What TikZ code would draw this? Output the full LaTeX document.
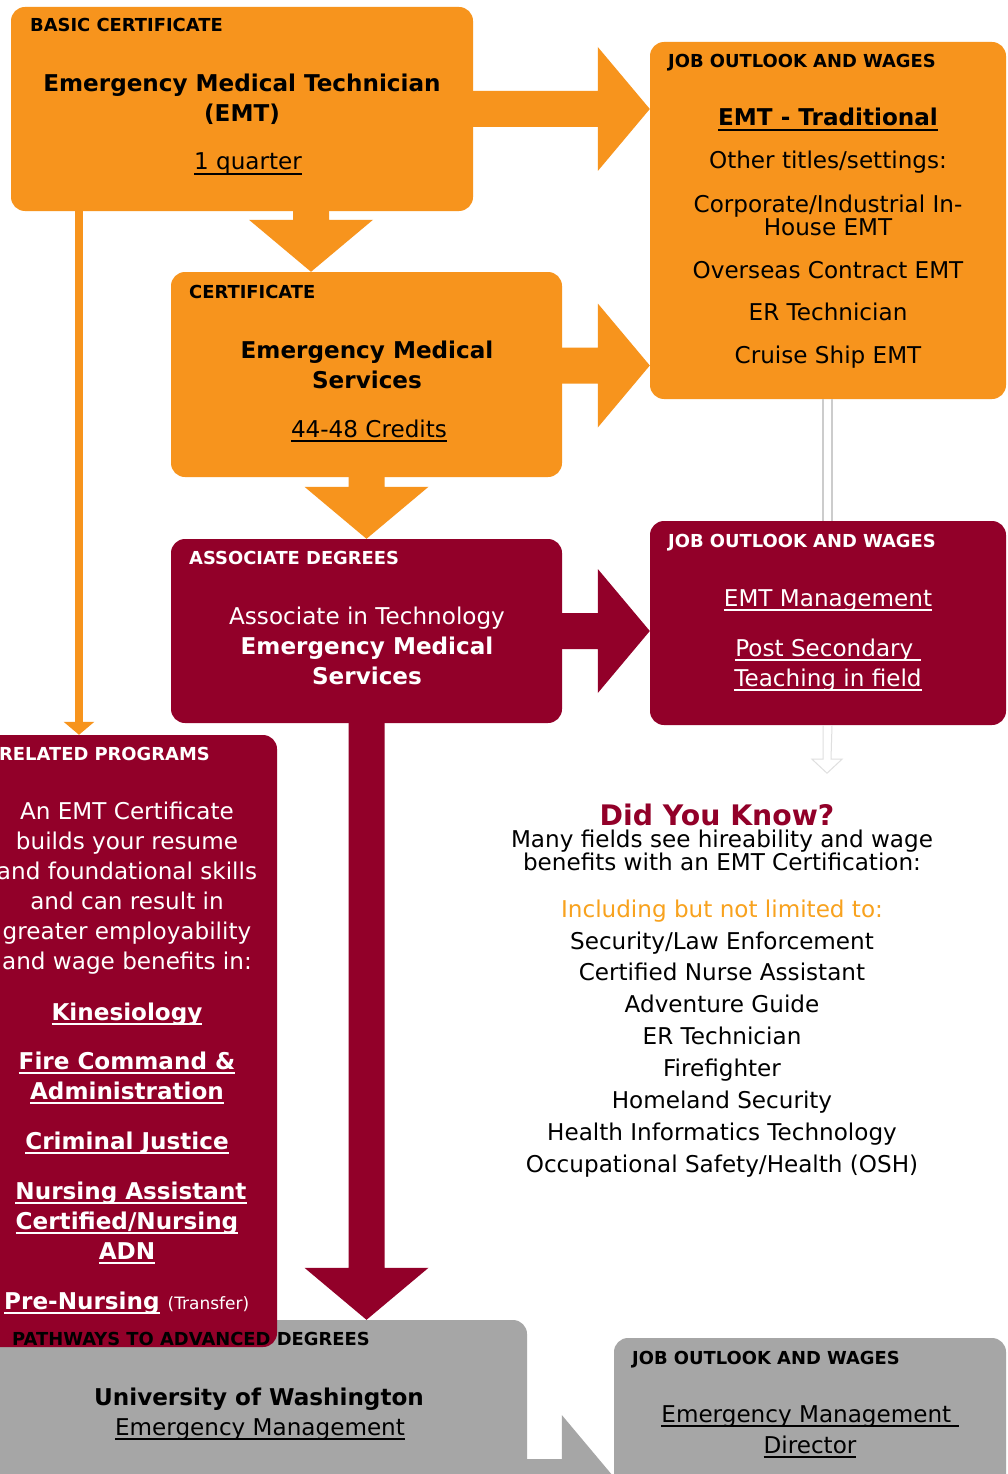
\documentclass[tikz,border=0pt]{standalone}
\usepackage{fontspec}
\setmainfont{DejaVu Sans}
\usepackage{tikz}
\usetikzlibrary{arrows.meta, calc}
\definecolor{emtorange}{RGB}{247, 148, 29}
\definecolor{emtred}{RGB}{146, 0, 41}
\definecolor{emtgray}{RGB}{166, 166, 166}
\definecolor{hintorange}{RGB}{248, 162, 30}
\newcommand{\bodyfont}{\fontsize{23.1}{26}\selectfont}
\newcommand{\tagfont}{\fontsize{17.9}{20}\selectfont\bfseries}
\newcommand{\linkline}[1]{\leavevmode\setbox0\hbox{#1}\rlap{\rule[-5pt]{\wd0}{1.8pt}}\box0\relax}
% block arrows: fill, start, tip
\newcommand{\blockright}[3]{\fill[#1] ($(#2)+(0,-18)$) -- ($(#3)+(-52,-18)$) -- ($(#3)+(-52,-62)$) -- (#3) -- ($(#3)+(-52,62)$) -- ($(#3)+(-52,18)$) -- ($(#2)+(0,18)$) -- cycle;}
\newcommand{\blockdown}[3]{\fill[#1] ($(#2)+(-18,0)$) -- ($(#3)+(-18,-52)$) -- ($(#3)+(-62,-52)$) -- (#3) -- ($(#3)+(62,-52)$) -- ($(#3)+(18,-52)$) -- ($(#2)+(18,0)$) -- cycle;}

\begin{document}
\begin{tikzpicture}[
    x=1pt, y=-1pt,
    box/.style={rectangle, rounded corners=14pt, inner sep=0pt},
    tag/.style={font=\tagfont, anchor=base west, inner sep=0pt},
    txt/.style={font=\bodyfont, anchor=base, inner sep=0pt},
    head/.style={txt, font=\bodyfont\bfseries},
    hollowline/.style={draw=gray!40, line width=1.2pt},
    thinarrow/.style={draw=emtorange, line width=8pt, -{Triangle[width=30pt, length=13pt]}}
]
    \path[use as bounding box, clip] (0,0) rectangle (1008,1474);
    \fill[white] (0,0) rectangle (1008,1474);

    % Boxes
    \node[box, fill=emtorange, minimum width=462pt, minimum height=204pt] (basic) at (242,109) {};
    \node[box, fill=emtorange, minimum width=391pt, minimum height=205pt] (cert) at (366.5,374.5) {};
    \node[box, fill=emtred, minimum width=391pt, minimum height=184pt] (assoc) at (366.5,631) {};
    \node[box, fill=emtorange, minimum width=356pt, minimum height=357pt] (job1) at (828,220.5) {};
    \node[box, fill=emtred, minimum width=356pt, minimum height=204pt] (job2) at (828,623) {};
    \node[box, fill=emtgray, minimum width=537pt, minimum height=220pt] (pathways) at (258.5,1430) {};
    \node[box, fill=emtgray, minimum width=392pt, minimum height=202pt] (job3) at (810,1439) {};
    \node[box, fill=emtred, minimum width=302pt, minimum height=612pt] (related) at (126,1041) {};

    % Hollow connectors
    \draw[hollowline] ($(job1.south)+(-5,0)$) -- ($(job2.north)+(-5,0)$);
    \draw[hollowline] ($(job1.south)+(4,0)$) -- ($(job2.north)+(4,0)$);
    \coordinate (h2t) at ($(job2.south)+(-1,48)$);
    \draw[draw=gray!25, line width=1pt] ($(job2.south)+(-5,0)$) -- ($(h2t)+(-4,-14)$) -- ($(h2t)+(-15,-14)$) -- (h2t)
        -- ($(h2t)+(15,-14)$) -- ($(h2t)+(4,-14)$) -- ($(job2.south)+(4,0)$);

    % Block arrows
    \coordinate (a1t) at (job1.west |- basic.east);
    \blockright{emtorange}{basic.east}{a1t}
    \coordinate (a2s) at ($(cert.east)+(0,-9)$);
    \coordinate (a2t) at (job1.west |- a2s);
    \blockright{emtorange}{a2s}{a2t}
    \coordinate (a3t) at (job2.west |- assoc.east);
    \blockright{emtred}{assoc.east}{a3t}
    \coordinate (d1s) at (311,0 |- basic.south);
    \coordinate (d1t) at (311,0 |- cert.north);
    \blockdown{emtorange}{d1s}{d1t}
    \blockdown{emtorange}{cert.south}{assoc.north}
    \coordinate (d3t) at (assoc.south |- pathways.north);
    \blockdown{emtred}{assoc.south}{d3t}
    \coordinate (g1s) at (520,1477);
    \coordinate (g1t) at (job3.west |- g1s);
    \blockright{emtgray}{g1s}{g1t}
    \coordinate (t1s) at (79,0 |- basic.south);
    \coordinate (t1t) at (79,0 |- related.north);
    \draw[thinarrow] (t1s) -- (t1t);

    % Basic certificate
    \node[tag] (basic_tag) at (30,32) {BASIC CERTIFICATE};
    \node[head] (basic_t1) at (242,92) {Emergency Medical Technician};
    \node[head] (basic_t2) at (242,122) {(EMT)};
    \node[txt] (basic_len) at (248,170) {\linkline{1 quarter}};

    % Certificate
    \node[tag] (cert_tag) at (189,298) {CERTIFICATE};
    \node[head] (cert_t1) at (367,358) {Emergency Medical};
    \node[head] (cert_t2) at (367,388) {Services};
    \node[txt] (cert_len) at (369,437) {\linkline{44-48 Credits}};

    % Associate degrees
    \node[tag, text=white] (assoc_tag) at (189,564) {ASSOCIATE DEGREES};
    \node[txt, text=white] (assoc_t1) at (367,624) {Associate in Technology};
    \node[head, text=white] (assoc_t2) at (367,654) {Emergency Medical};
    \node[head, text=white] (assoc_t3) at (367,684) {Services};

    % Job outlook (traditional)
    \node[tag] (job1_tag) at (668,68) {JOB OUTLOOK AND WAGES};
    \node[head] (job1_t1) at (828,126) {\linkline{EMT - Traditional}};
    \node[txt] (job1_t2) at (828,169) {Other titles/settings:};
    \node[txt] (job1_t3) at (828,212) {Corporate/Industrial In-};
    \node[txt] (job1_t4) at (828,235) {House EMT};
    \node[txt] (job1_t5) at (828,278) {Overseas Contract EMT};
    \node[txt] (job1_t6) at (828,320) {ER Technician};
    \node[txt] (job1_t7) at (828,363) {Cruise Ship EMT};

    % Job outlook (management)
    \node[tag, text=white] (job2_tag) at (668,547) {JOB OUTLOOK AND WAGES};
    \node[txt, text=white] (job2_t1) at (828,606) {\linkline{EMT Management}};
    \node[txt, text=white] (job2_t2) at (828,656) {\linkline{Post Secondary\ }};
    \node[txt, text=white] (job2_t3) at (828,686) {\linkline{Teaching in field}};

    % Related programs
    \node[tag, text=white] (rel_tag) at (-1,760) {RELATED PROGRAMS};
    \foreach \txt [count=\i from 0] in {An EMT Certificate, builds your resume, and foundational skills,
        and can result in, greater employability, and wage benefits in:}
        \node[txt, text=white] (rel\i) at (127,819+30*\i) {\txt};
    \node[head, text=white] (rel_kin) at (127,1020) {\linkline{Kinesiology}};
    \node[head, text=white] (rel_fire1) at (127,1069) {\linkline{Fire Command \&}};
    \node[head, text=white] (rel_fire2) at (127,1099) {\linkline{Administration}};
    \node[head, text=white] (rel_cj) at (127,1149) {\linkline{Criminal Justice}};
    \node[head, text=white] (rel_na1) at (131,1199) {\linkline{Nursing Assistant}};
    \node[head, text=white] (rel_na2) at (127,1229) {\linkline{Certified/Nursing}};
    \node[head, text=white] (rel_na3) at (127,1259) {\linkline{ADN}};
    \node[head, text=white, anchor=base west] (rel_pre) at (4,1309)
        {\linkline{Pre-Nursing} {\mdseries\fontsize{17}{20}\selectfont(Transfer)}};

    % Did you know
    \node[font=\fontsize{28.3}{32}\selectfont\bfseries, text=emtred, anchor=base, inner sep=0pt] (dyk) at (717,825) {Did You Know?};
    \node[txt] (dyk_t1) at (722,847) {Many fields see hireability and wage};
    \node[txt] (dyk_t2) at (722,870) {benefits with an EMT Certification:};
    \node[txt, text=hintorange] (dyk_t3) at (722,917) {Including but not limited to:};
    \foreach \txt [count=\i from 0] in {{Security/Law Enforcement}, Certified Nurse Assistant, Adventure Guide,
        ER Technician, Firefighter, Homeland Security, Health Informatics Technology, {Occupational Safety/Health (OSH)}}
        \node[txt] (fact\i) at (722,949+31.9*\i) {\txt};

    % Pathways to advanced degrees
    \node[tag] (path_tag) at (12,1345) {PATHWAYS TO ADVANCED DEGREES};
    \node[head] (path_t1) at (259,1405) {University of Washington};
    \node[txt] (path_t2) at (260,1435) {\linkline{Emergency Management}};

    % Job outlook (director)
    \node[tag] (job3_tag) at (632,1364) {JOB OUTLOOK AND WAGES};
    \node[txt] (job3_t1) at (810,1422) {\linkline{Emergency Management\ }};
    \node[txt] (job3_t2) at (810,1453) {\linkline{Director}};
\end{tikzpicture}
\end{document}
